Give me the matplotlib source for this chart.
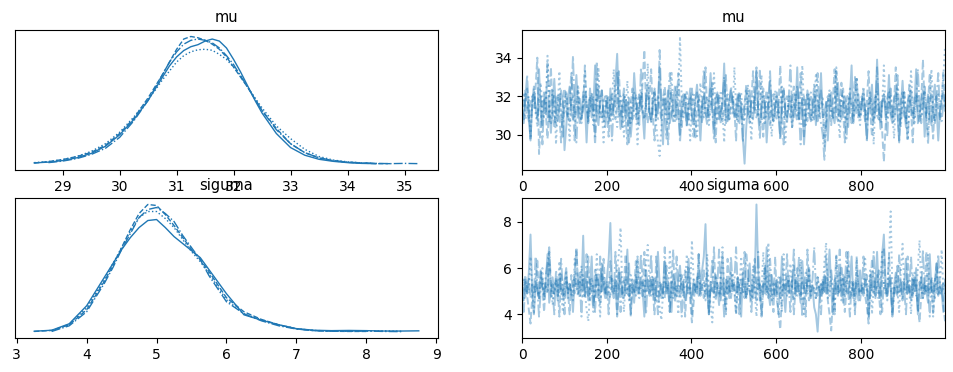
import numpy as np
import matplotlib
matplotlib.use("Agg")
from matplotlib import pyplot as plt

nan = np.nan

# posterior densities per chain
mu_grid = [28.5, 28.75, 29.0, 29.25, 29.5, 29.75, 30.0, 30.25, 30.5,
           30.625, 30.75, 30.875, 31.0, 31.125, 31.25, 31.375, 31.5, 31.625, 31.75, 31.875, 32.0, 32.125, 32.25, 32.375,
           32.5, 32.75, 33.0, 33.25, 33.5, 33.75, 34.0, 34.25, 34.5, 34.75, 35.0, 35.25]
mu_dens = [
    [.005, .008, .014, .025, .042, .07, .115, .175, .25,
     .295, .34, .385, .42, .445, .46, .468, .482, .49, .482, .455, .41, .36, .305, .25,
     .2, .12, .065, .035, .019, .011, .006, .003, .002, nan, nan, nan],
    [.006, .01, .018, .03, .05, .08, .125, .185, .255,
     .29, .33, .365, .40, .425, .44, .448, .45, .446, .43, .41, .38, .345, .30, .26,
     .22, .15, .10, .058, .03, .016, .009, .005, .003, nan, nan, nan],
    [.004, .01, .018, .03, .046, .074, .12, .18, .26,
     .305, .35, .40, .45, .49, .50, .495, .485, .47, .45, .42, .38, .34, .30, .255,
     .21, .14, .08, .045, .024, .013, .007, .004, .002, .002, nan, nan],
    [nan, .006, .012, .022, .038, .062, .105, .17, .25,
     .30, .35, .40, .44, .47, .485, .49, .485, .475, .455, .425, .39, .345, .30, .255,
     .21, .135, .08, .045, .025, .014, .008, .005, .003, .002, .003, .002],
]

sig_grid = [3.25, 3.5, 3.75, 4.0, 4.25,
            4.375, 4.5, 4.625, 4.75, 4.875, 5.0, 5.125, 5.25, 5.375, 5.5, 5.625,
            5.75, 6.0, 6.25, 6.5, 6.75, 7.0, 7.25, 7.5, 7.75, 8.0, 8.25, 8.5, 8.75]
sig_dens = [
    [.003, .008, .04, .13, .27,
     .34, .41, .47, .52, .555, .56, .52, .475, .44, .405, .37,
     .31, .19, .085, .058, .035, .016, .008, .006, .007, .006, .004, .004, .005],
    [nan, .004, .038, .12, .26,
     .34, .42, .50, .57, .60, .60, .565, .52, .46, .40, .35,
     .29, .16, .09, .06, .035, .016, .007, .004, .003, .004, .005, .003, nan],
    [.002, .007, .035, .11, .25,
     .33, .42, .51, .59, .635, .63, .585, .53, .47, .41, .36,
     .30, .17, .10, .062, .035, .015, .006, .003, .002, .002, nan, nan, nan],
    [nan, .002, .03, .10, .24,
     .32, .41, .49, .57, .61, .62, .59, .55, .48, .42, .36,
     .28, .15, .09, .055, .03, .014, .006, .003, .003, .004, .002, .001, nan],
]

# thinned trace values, 250 per chain
mu_trace = [
    [31.2, 30.6, 31.9, 32.4, 31.0, 29.7, 31.7, 32.1, 31.4, 30.8, 33.4, 31.3, 30.5, 31.8, 32.2, 30.9, 31.5, 30.1, 31.6, 32.9, 31.1, 30.7, 31.4, 32.3, 31.8,
     29.2, 30.4, 31.9, 32.5, 31.2, 30.8, 31.6, 33.1, 31.3, 30.6, 31.0, 32.2, 31.7, 29.6, 31.5, 32.0, 30.9, 31.4, 33.6, 31.1, 30.5, 31.8, 32.3, 30.7, 31.2,
     31.9, 30.6, 32.4, 31.0, 31.5, 32.8, 34.2, 31.6, 30.3, 31.2, 32.1, 30.8, 31.7, 31.3, 29.9, 31.0, 33.2, 31.8, 30.6, 31.4, 32.0, 31.1, 29.8, 31.9, 32.6,
     31.3, 30.7, 31.6, 32.2, 30.9, 31.5, 33.5, 31.0, 29.5, 31.8, 31.4, 32.3, 30.6, 31.1, 31.7, 32.5, 30.8, 31.3, 30.0, 31.9, 32.1, 31.2, 30.5, 31.6, 32.4,
     31.0, 30.7, 31.8, 32.6, 31.3, 29.7, 31.5, 32.0, 31.1, 30.9, 31.7, 33.2, 31.4, 30.3, 31.9, 32.2, 30.8, 31.2, 31.6, 33.7, 30.6, 31.0, 31.8, 32.3, 31.5,
     30.9, 31.4, 32.1, 30.6, 31.7, 29.8, 28.5, 30.4, 31.6, 32.3, 31.0, 30.8, 31.9, 33.3, 31.2, 30.5, 31.4, 32.0, 31.7, 29.6, 31.1, 32.8, 31.5, 30.7, 31.3,
     32.2, 31.0, 29.9, 31.8, 32.4, 31.3, 30.9, 31.5, 32.0, 30.4, 31.7, 31.2, 33.5, 30.8, 31.4, 31.9, 29.5, 31.1, 32.3, 31.6, 30.7, 31.2, 32.1, 30.5, 31.8,
     31.4, 33.2, 30.9, 31.1, 31.7, 29.7, 31.5, 32.2, 31.0, 30.6, 31.8, 32.7, 31.3, 30.8, 31.6, 32.0, 31.2, 30.4, 31.9, 33.6, 30.7, 31.3, 31.5, 32.1, 30.9,
     31.6, 32.3, 31.0, 29.8, 31.8, 31.4, 32.6, 30.7, 31.2, 33.9, 31.5, 30.3, 31.7, 32.1, 30.9, 31.3, 33.1, 31.0, 30.6, 31.9, 32.2, 31.1, 29.6, 31.5, 32.8,
     31.2, 30.4, 31.7, 32.0, 31.4, 30.9, 31.6, 33.4, 30.6, 31.1, 31.8, 32.3, 29.9, 31.3, 32.1, 31.0, 30.5, 31.9, 32.6, 31.4, 29.7, 31.2, 31.8, 32.2, 31.5],
    [31.5, 32.2, 30.8, 31.3, 32.0, 29.8, 31.7, 32.4, 31.1, 30.4, 31.9, 32.7, 31.2, 30.9, 31.6, 34.1, 31.8, 30.5, 31.4, 32.1, 29.5, 31.3, 33.3, 31.0, 30.7,
     31.6, 32.3, 31.2, 29.7, 31.9, 32.0, 30.9, 31.4, 32.6, 31.1, 30.6, 31.8, 33.3, 31.5, 30.8, 31.2, 32.2, 30.5, 31.7, 31.9, 33.5, 30.9, 31.3, 29.6, 31.6,
     32.1, 31.0, 30.7, 31.8, 33.4, 31.3, 30.4, 31.6, 32.0, 31.2, 29.9, 31.5, 32.8, 31.0, 30.6, 31.7, 32.3, 31.4, 29.5, 31.9, 32.2, 31.1, 30.8, 31.5, 33.7,
     31.3, 30.7, 31.9, 32.4, 30.5, 29.6, 28.9, 30.3, 31.6, 32.1, 31.0, 30.8, 31.7, 33.3, 31.2, 30.6, 31.4, 32.0, 35.1, 31.8, 30.9, 31.3, 32.3, 31.1, 29.7,
     31.7, 32.2, 31.0, 29.8, 31.5, 32.7, 31.3, 30.9, 31.8, 32.0, 30.5, 31.4, 31.9, 33.2, 31.1, 30.7, 31.6, 32.3, 31.2, 29.6, 31.8, 32.1, 30.8, 31.5, 31.0,
     33.5, 31.4, 30.6, 31.9, 32.2, 31.0, 30.8, 31.6, 32.6, 31.2, 29.7, 31.7, 32.0, 31.3, 30.9, 31.5, 33.1, 31.1, 30.5, 31.8, 32.1, 31.0, 29.9, 31.6, 32.3,
     31.2, 30.9, 31.7, 32.5, 31.4, 29.6, 31.1, 32.0, 31.8, 30.3, 31.5, 32.2, 31.0, 30.8, 31.9, 33.6, 31.3, 30.5, 31.6, 32.1, 31.2, 30.7, 31.4, 33.2, 31.8,
     30.9, 31.5, 32.0, 29.4, 30.6, 31.7, 32.3, 31.1, 30.8, 31.4, 33.5, 31.2, 29.8, 31.9, 32.1, 31.0, 30.7, 31.6, 32.4, 31.3, 30.9, 31.8, 33.0, 31.1, 30.5,
     31.7, 32.5, 31.2, 30.8, 31.4, 32.0, 31.6, 29.5, 31.9, 32.3, 31.0, 30.6, 31.5, 33.6, 31.3, 30.9, 31.7, 32.1, 31.1, 29.8, 31.8, 32.4, 31.2, 30.7, 31.6,
     32.2, 31.0, 29.7, 31.5, 33.3, 31.3, 30.5, 31.9, 32.0, 31.4, 30.9, 31.7, 32.3, 31.1, 29.9, 31.8, 33.4, 31.2, 30.7, 31.6, 32.1, 31.4, 31.9, 33.0, 34.6],
    [30.9, 31.6, 32.3, 31.2, 30.7, 31.8, 32.0, 31.4, 32.5, 34.0, 29.0, 30.6, 31.7, 32.2, 31.1, 29.8, 31.5, 33.5, 31.3, 30.4, 31.9, 32.1, 31.0, 29.6, 31.6,
     32.4, 31.2, 30.9, 31.7, 33.2, 31.3, 29.7, 31.8, 32.3, 31.0, 30.8, 31.5, 33.6, 31.4, 30.6, 31.9, 32.1, 31.1, 29.5, 31.6, 32.5, 31.2, 30.9, 31.7, 32.0,
     31.3, 29.9, 31.8, 32.2, 31.0, 30.8, 31.5, 33.3, 31.4, 30.4, 31.9, 32.0, 31.2, 29.6, 31.6, 32.4, 31.1, 30.9, 31.7, 32.1, 31.3, 32.8, 34.4, 31.5, 30.6,
     31.8, 33.4, 31.0, 29.7, 31.6, 32.0, 31.4, 30.8, 31.9, 32.5, 31.2, 29.5, 31.7, 32.2, 31.1, 30.9, 31.5, 33.2, 31.3, 30.3, 31.8, 32.1, 31.0, 30.7, 31.6,
     32.4, 31.2, 29.8, 31.5, 32.0, 31.4, 30.6, 31.9, 33.5, 31.1, 30.9, 31.6, 32.7, 31.3, 29.6, 31.8, 32.1, 31.0, 30.7, 31.4, 33.1, 31.2, 30.8, 31.7, 32.0,
     31.3, 29.7, 31.9, 32.2, 31.0, 30.8, 31.6, 32.6, 31.4, 30.6, 31.8, 33.3, 31.2, 30.9, 31.5, 33.4, 31.1, 29.9, 31.7, 32.3, 31.3, 30.5, 31.9, 32.1, 31.0,
     30.8, 31.5, 33.6, 31.2, 29.5, 31.7, 32.0, 31.4, 30.9, 31.8, 32.5, 31.1, 30.7, 31.6, 33.2, 31.3, 29.8, 31.9, 32.1, 31.0, 30.8, 31.5, 32.6, 31.2, 30.6,
     31.7, 32.3, 31.1, 29.7, 31.6, 32.0, 31.4, 30.5, 31.8, 33.4, 31.0, 30.7, 31.5, 32.7, 31.3, 29.6, 31.9, 32.1, 31.2, 30.6, 31.7, 33.0, 31.1, 30.9, 31.6,
     32.0, 31.3, 30.7, 31.8, 33.3, 31.2, 29.9, 31.4, 32.1, 31.0, 30.8, 31.7, 30.2, 28.6, 30.4, 31.9, 32.3, 31.1, 30.9, 31.6, 33.5, 31.4, 29.7, 31.8, 32.2,
     31.0, 30.7, 31.5, 32.6, 31.3, 29.6, 31.9, 32.1, 31.2, 30.6, 31.7, 33.9, 31.4, 30.9, 31.6, 33.2, 31.1, 29.8, 31.8, 32.0, 31.3, 30.7, 31.5, 33.3, 31.2],
    [31.4, 30.8, 31.9, 33.1, 31.1, 29.7, 31.7, 32.5, 31.3, 30.9, 31.5, 32.0, 29.5, 31.8, 31.2, 33.7, 30.7, 31.6, 32.3, 31.0, 30.5, 31.9, 32.1, 31.2, 29.9,
     31.6, 32.1, 31.0, 30.7, 31.8, 34.1, 31.2, 29.6, 31.5, 31.9, 30.9, 31.3, 32.2, 31.7, 30.6, 32.4, 31.4, 32.0, 29.8, 33.8, 31.1, 31.7, 32.3, 31.0, 30.4,
     31.6, 32.0, 31.3, 29.7, 31.8, 31.5, 33.3, 30.9, 31.1, 31.6, 32.4, 31.0, 29.5, 31.9, 31.4, 30.8, 31.7, 32.1, 31.2, 30.5, 33.5, 31.3, 30.9, 31.8, 32.0,
     31.1, 30.6, 31.5, 32.3, 31.0, 30.8, 34.4, 31.7, 32.0, 31.4, 29.8, 31.9, 33.2, 31.1, 30.7, 31.6, 32.5, 31.3, 29.6, 31.2, 31.6, 32.1, 30.4, 31.5, 31.9,
     31.0, 29.9, 31.8, 32.2, 31.3, 30.9, 31.6, 33.4, 31.1, 30.5, 31.7, 32.4, 31.2, 29.7, 31.5, 32.1, 31.4, 30.6, 31.9, 33.0, 31.0, 30.7, 31.6, 32.5, 31.8,
     31.2, 30.9, 31.7, 32.1, 31.4, 29.6, 31.5, 32.3, 31.0, 30.8, 31.9, 32.0, 31.3, 33.5, 31.1, 29.8, 31.6, 32.4, 31.2, 30.9, 31.8, 33.3, 31.0, 30.7, 31.5,
     32.0, 31.4, 29.7, 31.7, 32.3, 31.1, 30.6, 31.9, 33.6, 31.3, 30.9, 31.5, 32.6, 31.2, 29.5, 31.8, 32.0, 31.0, 30.7, 31.6, 32.2, 31.4, 30.8, 31.9, 33.2,
     31.1, 30.6, 30.0, 28.7, 30.5, 31.7, 32.2, 31.3, 30.9, 31.6, 33.3, 31.2, 30.7, 31.8, 32.4, 31.0, 29.8, 31.5, 32.1, 31.4, 30.6, 31.9, 33.0, 31.1, 30.9,
     31.6, 32.0, 31.3, 29.6, 31.8, 32.2, 31.0, 30.8, 31.5, 33.5, 31.2, 30.9, 31.7, 32.1, 31.4, 29.9, 31.9, 32.4, 31.1, 30.7, 31.6, 33.1, 31.3, 30.4, 31.8,
     32.2, 31.0, 29.7, 31.6, 32.3, 31.2, 30.9, 31.8, 33.4, 31.4, 30.6, 31.5, 32.5, 31.1, 29.5, 31.7, 32.1, 31.3, 30.5, 31.9, 33.2, 31.0, 30.7, 31.6, 31.8],
]

sig_trace = [
    [5.2, 4.6, 5.5, 4.9, 5.8, 7.45, 5.0, 4.0, 5.3, 5.1, 4.7, 5.9, 5.2, 4.8, 5.4, 6.6, 4.5, 5.0, 5.6, 4.9, 5.3, 4.6, 5.7, 5.1, 4.8,
     5.4, 6.0, 4.7, 5.2, 5.0, 4.1, 5.6, 5.3, 4.9, 5.8, 5.1, 7.4, 4.8, 5.5, 4.6, 5.2, 6.5, 4.4, 5.0, 5.7, 5.3, 4.9, 6.2, 5.1, 4.7,
     5.6, 6.4, 7.95, 5.2, 4.9, 5.5, 4.0, 5.1, 5.8, 5.0, 4.7, 5.4, 6.8, 4.8, 5.3, 5.1, 4.5, 5.7, 5.2, 4.9, 5.6, 5.0, 3.9, 5.9, 5.3,
     4.8, 5.2, 5.6, 4.6, 5.0, 6.7, 5.3, 4.7, 5.1, 6.3, 4.9, 5.4, 5.0, 4.1, 5.7, 5.2, 4.8, 5.5, 6.1, 4.9, 5.3, 4.6, 5.0, 6.4, 5.1,
     4.7, 5.4, 5.0, 5.6, 4.8, 5.2, 5.9, 6.5, 7.9, 5.1, 4.0, 5.3, 5.0, 4.9, 5.7, 5.2, 4.4, 5.5, 6.6, 4.8, 5.1, 5.4, 4.7, 5.8, 5.0,
     5.3, 4.9, 5.6, 5.1, 3.9, 5.8, 5.2, 4.8, 5.4, 6.2, 5.0, 4.7, 5.5, 8.75, 5.9, 4.6, 5.1, 5.3, 4.9, 6.9, 5.0, 4.4, 5.7, 5.2, 4.8,
     5.5, 5.1, 4.7, 6.5, 5.0, 4.1, 5.3, 5.6, 4.9, 5.2, 6.1, 4.8, 5.4, 5.0, 4.5, 6.3, 5.1, 4.9, 5.3, 6.0, 4.7, 5.2, 4.3, 4.0, 3.25,
     4.6, 5.3, 5.0, 5.7, 4.9, 5.4, 6.8, 5.1, 4.0, 5.5, 5.0, 4.8, 5.8, 5.2, 4.5, 5.6, 5.0, 4.9, 5.4, 6.5, 4.7, 5.1, 5.3, 4.6, 5.9,
     5.0, 4.8, 5.5, 5.2, 3.9, 5.7, 5.1, 4.9, 5.4, 6.7, 5.0, 4.7, 6.6, 7.45, 5.3, 4.8, 5.6, 5.1, 4.1, 5.2, 5.8, 4.9, 5.0, 5.4, 4.7,
     5.3, 6.4, 4.9, 5.1, 4.6, 5.5, 5.0, 6.0, 4.0, 5.2, 5.6, 4.7, 5.3, 5.0, 4.5, 6.6, 5.1, 4.9, 5.4, 6.2, 4.8, 5.2, 5.0, 4.1, 5.5],
    [5.0, 5.5, 4.7, 5.3, 4.9, 6.5, 5.1, 4.0, 5.6, 5.0, 4.8, 5.4, 6.0, 4.6, 5.2, 4.9, 6.7, 5.3, 4.4, 5.1, 5.5, 4.8, 6.3, 5.0, 4.1,
     5.2, 5.9, 4.9, 5.4, 5.0, 4.6, 6.4, 5.1, 4.8, 5.3, 6.1, 4.7, 5.0, 4.2, 3.7, 4.9, 5.6, 5.2, 4.8, 6.6, 5.0, 3.9, 5.8, 5.3, 4.9,
     5.4, 5.0, 4.7, 5.6, 5.2, 4.9, 6.0, 6.6, 7.75, 5.1, 4.1, 5.5, 5.0, 4.6, 5.7, 5.3, 4.9, 5.2, 6.5, 4.7, 5.1, 5.4, 4.9, 6.2, 7.0,
     5.3, 4.8, 5.5, 5.1, 4.6, 5.0, 4.3, 3.75, 4.9, 5.6, 5.2, 4.8, 6.8, 5.0, 4.7, 5.4, 5.1, 4.0, 5.7, 5.2, 4.9, 5.3, 6.6, 4.8, 5.0,
     7.2, 5.5, 4.9, 5.2, 5.7, 4.8, 5.0, 5.4, 4.6, 6.6, 5.1, 4.4, 3.65, 4.9, 5.6, 5.2, 4.8, 5.3, 6.9, 5.0, 4.0, 5.5, 5.1, 4.9, 5.8,
     5.2, 4.0, 5.4, 5.0, 6.5, 4.9, 5.3, 4.7, 5.6, 5.1, 4.8, 6.1, 5.0, 3.9, 5.5, 5.2, 4.9, 6.7, 5.3, 4.8, 7.1, 5.0, 4.6, 5.4, 5.1,
     4.9, 5.6, 5.2, 4.1, 6.6, 5.0, 4.8, 5.3, 6.2, 5.1, 4.6, 5.5, 5.0, 4.9, 6.4, 5.2, 3.9, 5.4, 5.0, 6.0, 4.8, 5.3, 5.1, 4.7, 5.6,
     5.0, 5.4, 4.9, 6.3, 7.1, 5.2, 4.8, 5.5, 5.0, 4.0, 6.6, 5.1, 4.9, 5.3, 5.6, 4.7, 5.2, 6.1, 5.0, 4.8, 5.4, 4.1, 6.5, 5.1, 4.9,
     5.3, 5.0, 6.4, 4.8, 5.2, 5.9, 4.0, 5.1, 5.5, 5.0, 4.6, 5.4, 6.7, 5.2, 4.9, 5.3, 6.4, 8.45, 5.1, 4.8, 5.6, 5.0, 4.1, 5.9, 7.05,
     5.2, 4.9, 5.5, 5.0, 4.0, 5.7, 5.3, 4.8, 6.0, 7.2, 5.1, 4.7, 5.4, 5.0, 6.6, 4.9, 5.2, 3.9, 5.6, 5.1, 4.8, 5.3, 6.8, 5.0, 4.9],
    [4.9, 5.3, 5.7, 4.8, 4.2, 3.6, 4.7, 5.2, 5.0, 6.4, 4.6, 5.9, 5.1, 4.1, 5.4, 5.0, 6.7, 4.7, 5.3, 4.9, 5.6, 5.2, 3.9, 5.8, 5.0,
     4.8, 5.4, 5.1, 4.0, 5.7, 5.0, 4.9, 6.9, 5.3, 4.7, 5.2, 5.5, 4.8, 5.0, 6.5, 4.6, 5.3, 5.1, 4.1, 5.6, 5.0, 4.4, 5.4, 6.4, 5.1,
     4.7, 5.2, 6.3, 4.9, 5.0, 5.4, 3.9, 6.0, 5.1, 4.8, 5.3, 6.6, 4.9, 5.2, 4.0, 5.5, 5.0, 6.3, 4.8, 5.1, 5.4, 4.7, 6.7, 5.0, 5.2,
     4.9, 5.5, 5.0, 4.0, 6.5, 5.2, 4.8, 5.3, 5.0, 4.7, 6.1, 5.1, 4.1, 5.4, 6.8, 4.5, 5.2, 5.0, 4.8, 5.7, 5.3, 3.9, 5.1, 6.0, 4.6,
     3.65, 4.5, 5.3, 5.0, 6.6, 4.8, 5.2, 5.9, 4.9, 5.1, 4.0, 5.4, 5.0, 6.9, 4.8, 5.3, 5.1, 4.6, 5.5, 5.0, 4.1, 6.4, 5.2, 4.7, 5.4,
     5.0, 4.0, 5.6, 5.1, 4.9, 5.3, 6.7, 4.7, 5.2, 5.0, 4.6, 5.5, 6.4, 4.9, 5.1, 5.4, 3.9, 5.0, 6.1, 5.2, 4.7, 5.3, 5.0, 4.1, 6.5,
     4.6, 4.1, 3.35, 4.8, 5.3, 5.0, 6.6, 4.9, 5.2, 5.5, 4.0, 5.1, 6.0, 5.0, 4.8, 5.4, 5.2, 3.9, 6.8, 5.1, 4.9, 5.3, 5.0, 4.7, 5.6,
     5.1, 4.8, 5.4, 5.0, 5.7, 4.6, 4.0, 3.3, 4.7, 5.2, 6.5, 4.9, 5.0, 6.1, 5.3, 4.1, 5.1, 6.7, 4.7, 5.0, 5.4, 4.0, 5.8, 5.2, 4.6,
     5.3, 5.0, 4.8, 4.3, 3.6, 4.9, 6.4, 5.2, 4.8, 5.7, 5.0, 4.0, 5.4, 6.9, 5.1, 4.9, 5.3, 5.6, 3.9, 5.2, 5.0, 4.8, 6.6, 5.1, 4.6,
     5.4, 5.0, 6.5, 4.9, 5.2, 4.7, 5.5, 5.1, 4.4, 3.65, 4.8, 5.3, 5.0, 6.7, 4.9, 5.2, 5.5, 4.0, 5.0, 6.2, 5.1, 4.8, 5.3, 4.4, 3.7],
    [5.1, 4.1, 5.4, 5.0, 5.6, 4.7, 5.3, 4.9, 6.5, 5.2, 3.9, 5.0, 5.5, 4.9, 5.7, 6.2, 6.9, 5.3, 5.0, 4.0, 5.9, 5.2, 4.9, 6.4, 5.1,
     4.0, 5.6, 5.0, 5.3, 4.8, 5.2, 5.9, 6.8, 5.1, 5.4, 3.9, 5.7, 5.0, 6.6, 4.8, 5.5, 5.1, 4.1, 6.0, 5.2, 4.7, 6.5, 5.0, 5.6, 4.9,
     5.3, 4.0, 5.6, 5.1, 4.7, 6.7, 5.0, 5.8, 4.1, 5.2, 5.5, 4.9, 5.1, 6.2, 3.9, 5.3, 5.0, 4.8, 6.4, 5.1, 6.6, 5.4, 5.2, 4.0, 5.5,
     5.0, 6.6, 4.8, 5.6, 5.1, 4.0, 5.4, 5.2, 4.7, 6.9, 5.0, 5.3, 4.1, 5.5, 5.1, 4.8, 6.5, 5.0, 5.2, 3.9, 5.4, 5.9, 4.9, 5.1, 5.3,
     4.0, 5.5, 5.1, 4.9, 6.6, 5.0, 5.3, 4.7, 5.2, 5.8, 4.1, 5.1, 6.4, 5.0, 4.6, 5.3, 6.8, 4.8, 5.2, 3.9, 5.5, 4.9, 5.1, 6.5, 5.2,
     5.4, 6.9, 5.0, 4.0, 5.5, 5.1, 4.7, 6.6, 5.9, 5.0, 4.1, 5.4, 5.2, 4.6, 6.7, 5.1, 3.9, 5.3, 6.0, 5.0, 4.9, 6.4, 5.2, 4.7, 5.4,
     5.1, 4.0, 5.6, 5.0, 5.3, 4.9, 5.7, 5.2, 4.1, 5.4, 6.8, 5.0, 4.8, 6.5, 5.1, 3.9, 5.3, 5.8, 5.0, 4.6, 5.2, 5.5, 6.9, 5.1, 4.8,
     5.3, 4.0, 5.6, 4.9, 6.6, 4.7, 5.4, 5.9, 5.1, 4.1, 5.5, 5.0, 6.8, 4.6, 5.7, 5.2, 6.7, 5.0, 3.9, 5.4, 5.1, 4.8, 6.4, 5.2, 5.0,
     4.9, 6.5, 5.1, 5.7, 4.0, 5.2, 5.0, 6.7, 4.7, 5.3, 5.9, 5.0, 4.1, 5.4, 5.1, 4.6, 6.6, 5.2, 3.9, 4.8, 5.3, 6.1, 5.0, 4.9, 5.4,
     5.1, 4.0, 5.5, 5.0, 6.5, 4.9, 5.8, 5.2, 4.1, 5.4, 5.0, 6.8, 4.8, 5.2, 5.1, 3.9, 5.6, 5.3, 4.7, 5.0, 6.6, 5.2, 4.8, 5.4, 5.1],
]

var_names = ["mu", "siguma"]
styles = ["-", ":", "--", "-."]
color = "#1f77b4"

fig = plt.figure(figsize=(9.54, 3.72), dpi=100)
rows = [
    (mu_grid, mu_dens, mu_trace, 0.543),
    (sig_grid, sig_dens, sig_trace, 0.0914),
]
for name, (grid, dens, trace, bottom) in zip(var_names, rows):
    ax_d = fig.add_axes([0.0157, bottom, 0.4434, 0.376])
    ax_t = fig.add_axes([0.5472, bottom, 0.4434, 0.376])
    for ls, d in zip(styles, dens):
        ax_d.plot(grid, d, color=color, ls=ls, lw=1)
    draws = np.linspace(0, 999, len(trace[0]))
    for ls, t in zip(styles, trace):
        ax_t.plot(draws, t, color=color, ls=ls, lw=1.4, alpha=0.4)
    ax_t.set_xlim(0, 999)
    ax_d.set_yticks([])
    for ax in (ax_d, ax_t):
        ax.set_title(name, fontsize=10.5)
        ax.tick_params(labelsize=10)

fig.savefig("out.png", dpi=100)
